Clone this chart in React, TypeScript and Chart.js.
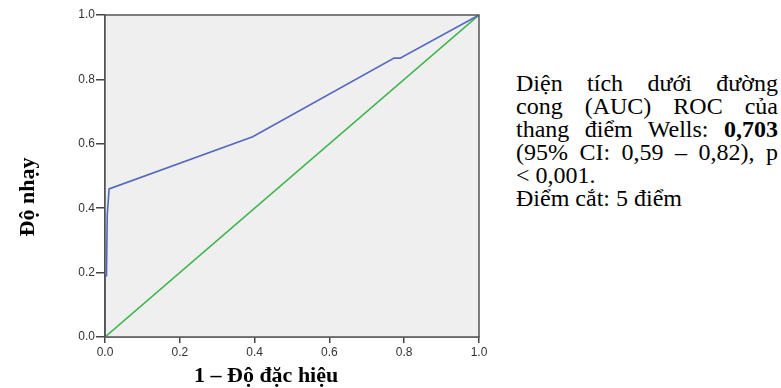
import React, { useEffect, useRef } from "react";
import { Chart, registerables } from "chart.js";

Chart.register(...registerables);

// ROC curve (1 - specificity, sensitivity)
const rocFpr = [0, 0, 0.004, 0.006, 0.011, 0.395, 0.773, 0.789, 1];
const rocTpr = [0, 0.19, 0.19, 0.38, 0.46, 0.622, 0.866, 0.866, 1];
// reference diagonal
const refFpr = [0, 1];
const refTpr = [0, 1];
const tickValues = [0, 0.2, 0.4, 0.6, 0.8, 1.0];

const xTitle = "1 – Độ đặc hiệu";
const yTitle = "Độ nhạy";

const bgPlugin = {
  id: "plotBg",
  beforeDatasetsDraw(chart: any) {
    const { ctx, chartArea } = chart;
    ctx.save();
    ctx.fillStyle = "#efefef";
    ctx.fillRect(chartArea.left, chartArea.top, chartArea.right - chartArea.left, chartArea.bottom - chartArea.top);
    ctx.restore();
  },
  afterDatasetsDraw(chart: any) {
    const { ctx, chartArea } = chart;
    ctx.save();
    ctx.strokeStyle = "#555555";
    ctx.lineWidth = 1.5;
    ctx.strokeRect(chartArea.left, chartArea.top, chartArea.right - chartArea.left, chartArea.bottom - chartArea.top);
    ctx.restore();
  },
};

export default function App() {
  const ref = useRef<HTMLCanvasElement | null>(null);
  useEffect(() => {
    if (!ref.current) return;
    const tickFont = { family: "'Liberation Sans', Arial, sans-serif", size: 12 };
    const chart = new Chart(ref.current, {
      type: "line",
      data: {
        datasets: [
          {
            label: "ROC",
            data: rocFpr.map((x, i) => ({ x, y: rocTpr[i] })),
            borderColor: "#5468be",
            borderWidth: 1.6,
            pointRadius: 0,
            tension: 0,
            fill: false,
          },
          {
            label: "Reference",
            data: refFpr.map((x, i) => ({ x, y: refTpr[i] })),
            borderColor: "#3db54a",
            borderWidth: 1.6,
            pointRadius: 0,
            tension: 0,
            fill: false,
          },
        ],
      },
      options: {
        animation: false,
        responsive: false,
        maintainAspectRatio: false,
        layout: { padding: { top: 15, right: 21, left: 0, bottom: 0 } },
        plugins: { legend: { display: false }, tooltip: { enabled: false } },
        scales: {
          x: {
            type: "linear",
            min: 0,
            max: 1,
            afterBuildTicks: (s: any) => {
              s.ticks = tickValues.map((v) => ({ value: v }));
            },
            afterFit: (s: any) => {
              s.height = 51;
            },
            ticks: {
              callback: (v: any) => Number(v).toFixed(1),
              font: tickFont,
              color: "#333333",
              padding: 2,
              maxRotation: 0,
            },
            grid: { drawOnChartArea: false, drawTicks: true, tickLength: 6, color: "#444444", lineWidth: 1.5 },
            border: { color: "#444444", width: 1.5 },
          },
          y: {
            type: "linear",
            min: 0,
            max: 1,
            afterBuildTicks: (s: any) => {
              s.ticks = tickValues.map((v) => ({ value: v }));
            },
            afterFit: (s: any) => {
              s.width = 105;
            },
            ticks: {
              callback: (v: any) => Number(v).toFixed(1),
              font: tickFont,
              color: "#333333",
              padding: 1,
            },
            grid: { drawOnChartArea: false, drawTicks: true, tickLength: 9, color: "#444444", lineWidth: 1.5 },
            border: { color: "#444444", width: 1.5 },
          },
        },
      },
      plugins: [bgPlugin],
    } as any);
    return () => chart.destroy();
  }, []);

  const serif = "'Liberation Serif', 'Times New Roman', serif";
  const justified: React.CSSProperties = { textAlign: "justify", textAlignLast: "justify" as any, whiteSpace: "nowrap" };

  return (
    <div style={{ position: "fixed", left: 0, top: 0, width: 781, height: 388, background: "#ffffff", overflow: "hidden" }}>
      <canvas ref={ref} width={500} height={388} style={{ position: "absolute", left: 0, top: 0, width: 500, height: 388 }} />
      <div
        style={{
          position: "absolute",
          left: 27 - 70,
          top: 197 - 13,
          width: 140,
          height: 26,
          lineHeight: "26px",
          textAlign: "center",
          transform: "rotate(-90deg)",
          transformOrigin: "50% 50%",
          fontFamily: serif,
          fontWeight: "bold",
          fontSize: 22,
          color: "#000",
        }}
      >
        {yTitle}
      </div>
      <div
        style={{
          position: "absolute",
          left: 194,
          top: 362,
          height: 26,
          lineHeight: "26px",
          whiteSpace: "nowrap",
          fontFamily: serif,
          fontWeight: "bold",
          fontSize: 22,
          color: "#000",
        }}
      >
        {xTitle}
      </div>
      <div
        style={{
          position: "absolute",
          left: 516,
          top: 72,
          width: 262,
          fontFamily: serif,
          fontSize: 24,
          lineHeight: "23px",
          color: "#000",
        }}
      >
        <div style={justified}>Diện tích dưới đường</div>
        <div style={justified}>cong (AUC) ROC của</div>
        <div style={justified}>
          thang điểm Wells: <b>0,703</b>
        </div>
        <div style={justified}>(95% CI: 0,59 – 0,82), p</div>
        <div>&lt; 0,001.</div>
        <div>Điểm cắt: 5 điểm</div>
      </div>
    </div>
  );
}
